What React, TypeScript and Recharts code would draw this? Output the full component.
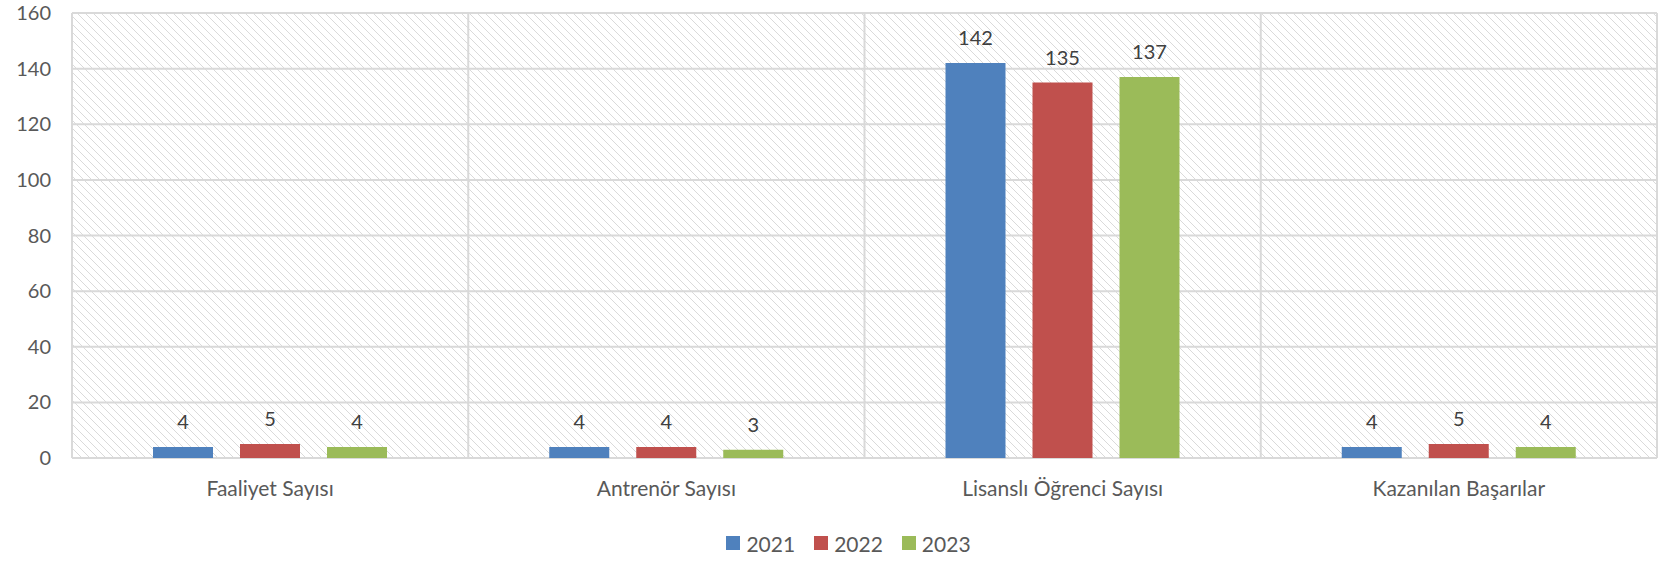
import { Bar, BarChart, CartesianGrid, LabelList, Legend, XAxis, YAxis } from 'recharts'

const categories = ['Faaliyet Sayısı', 'Antrenör Sayısı', 'Lisanslı Öğrenci Sayısı', 'Kazanılan Başarılar']
const values2021 = [4, 4, 142, 4]
const values2022 = [5, 4, 135, 5]
const values2023 = [4, 3, 137, 4]
const yTicks = [0, 20, 40, 60, 80, 100, 120, 140, 160]

const series = [
  { key: 'y2021', name: '2021', color: '#4F81BD' },
  { key: 'y2022', name: '2022', color: '#C0504D' },
  { key: 'y2023', name: '2023', color: '#9BBB59' },
]

const data = categories.map((name, i) => ({
  name,
  y2021: values2021[i],
  y2022: values2022[i],
  y2023: values2023[i],
}))

const FONT = 'Lato, "Open Sans", sans-serif'
const GRID = '#d9d9d9'

function LegendContent({ payload }: any) {
  return (
    <div
      style={{
        display: 'flex',
        justifyContent: 'center',
        alignItems: 'center',
        height: 40,
        paddingTop: 4,
        paddingLeft: 59,
        boxSizing: 'border-box',
        fontFamily: FONT,
        fontSize: 21,
        color: '#595959',
      }}
    >
      {(payload || []).map((entry: any) => (
        <div key={entry.value} style={{ display: 'flex', alignItems: 'center', marginRight: 19 }}>
          <span style={{ width: 14, height: 14, background: entry.color, marginRight: 6, display: 'inline-block' }} />
          <span>{entry.value}</span>
        </div>
      ))}
    </div>
  )
}

export default function App() {
  return (
    <div style={{ position: 'absolute', left: 0, top: 0, background: '#fff' }}>
      <BarChart
        width={1663}
        height={561}
        data={data}
        margin={{ top: 13, right: 6, bottom: 0, left: 0 }}
        barSize={60}
        barGap={27}
      >
        <defs>
          <pattern id="hatch" patternUnits="userSpaceOnUse" width="8" height="8">
            <rect width="8" height="8" fill="#ffffff" />
            <path d="M-2,6 L2,10 M0,0 L8,8 M6,-2 L10,2" stroke="#dadada" strokeWidth="1" />
          </pattern>
        </defs>
        <CartesianGrid
          fill="url(#hatch)"
          stroke={GRID}
          strokeWidth={2}
          verticalCoordinatesGenerator={({ offset }: any) =>
            categories.map((_, i) => offset.left + (offset.width * i) / categories.length).concat(offset.left + offset.width)
          }
        />
        <XAxis
          dataKey="name"
          axisLine={false}
          tickLine={false}
          tickSize={0}
          tickMargin={23}
          height={63}
          tick={{ fill: '#595959', fontSize: 21, fontFamily: FONT }}
        />
        <YAxis
          domain={[0, 160]}
          ticks={yTicks}
          axisLine={false}
          tickLine={false}
          tickSize={0}
          tickMargin={21}
          width={72}
          tick={{ fill: '#595959', fontSize: 20, fontFamily: FONT }}
        />
        <Legend verticalAlign="bottom" content={<LegendContent />} wrapperStyle={{ height: 40 }} />
        {series.map((s) => (
          <Bar key={s.key} dataKey={s.key} name={s.name} fill={s.color} isAnimationActive={false}>
            <LabelList dataKey={s.key} position="top" offset={18} fill="#404040" fontSize={20} fontFamily={FONT} />
          </Bar>
        ))}
      </BarChart>
    </div>
  )
}
